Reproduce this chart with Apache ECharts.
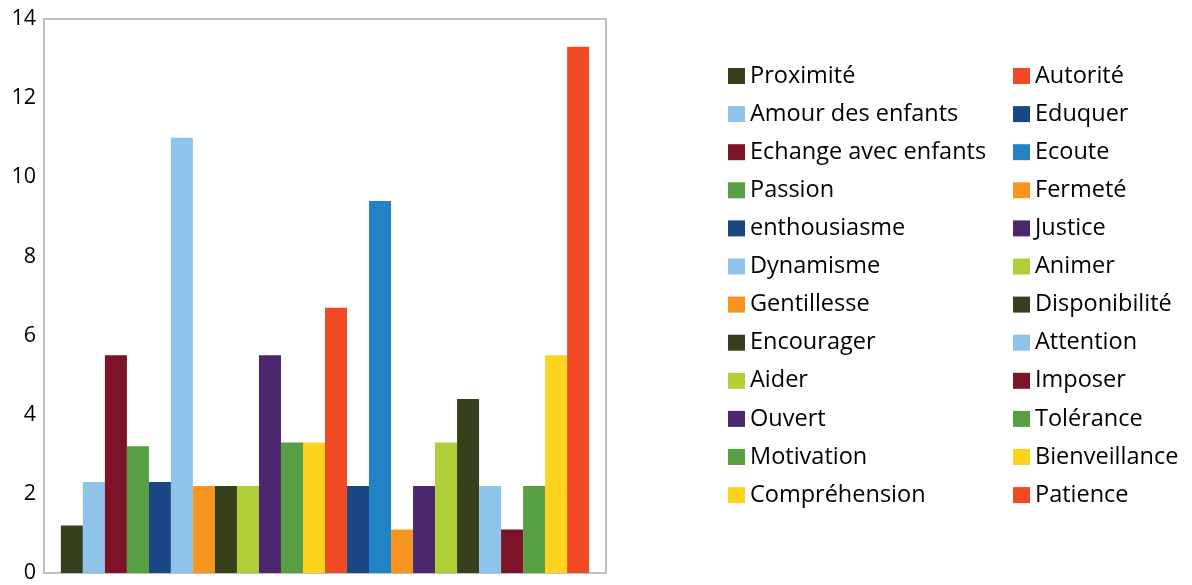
<!DOCTYPE html>
<html>
<head>
<meta charset="utf-8">
<script src="https://cdn.jsdelivr.net/npm/echarts@6/dist/echarts.min.js"></script>
<style>
  html, body { margin: 0; padding: 0; background: #fff; }
  #chart { width: 1192px; height: 585px; }
</style>
</head>
<body>
<div id="chart"></div>
<script>
// bars left to right = left legend column, then right legend column
const leftNames = ["Proximité", "Amour des enfants", "Echange avec enfants", "Passion", "enthousiasme", "Dynamisme",
  "Gentillesse", "Encourager", "Aider", "Ouvert", "Motivation", "Compréhension"];
const leftValues = [1.2, 2.3, 5.5, 3.2, 2.3, 11, 2.2, 2.2, 2.2, 5.5, 3.3, 3.3];
const leftColors = ["#36401d", "#8fc4ea", "#7d1326", "#589e43", "#1a4683", "#8fc4ea",
  "#f6951f", "#36401d", "#afce38", "#4b276d", "#589e43", "#fed31e"];

const rightNames = ["Autorité", "Eduquer", "Ecoute", "Fermeté", "Justice", "Animer",
  "Disponibilité", "Attention", "Imposer", "Tolérance", "Bienveillance", "Patience"];
const rightValues = [6.7, 2.2, 9.4, 1.1, 2.2, 3.3, 4.4, 2.2, 1.1, 2.2, 5.5, 13.3];
const rightColors = ["#ef4a24", "#1a4683", "#2183c6", "#f6951f", "#4b276d", "#afce38",
  "#36401d", "#8fc4ea", "#7d1326", "#589e43", "#fed31e", "#ef4a24"];

const yTicks = [0, 2, 4, 6, 8, 10, 12, 14];

const myChart = echarts.init(document.getElementById("chart"));

const names = leftNames.concat(rightNames);
const values = leftValues.concat(rightValues);
const colors = leftColors.concat(rightColors);

const font = "'Open Sans', Lato, sans-serif";

function legendCol(x, data) {
  return {
    data: data,
    orient: "vertical",
    left: x,
    top: 59,
    itemWidth: 17,
    itemHeight: 16,
    itemGap: 14.1,
    icon: "rect",
    textStyle: {
      fontFamily: font,
      fontSize: 23.5,
      color: "#000"
    }
  };
}

let option = {
  animation: false,
  grid: {
    left: 44,
    top: 19,
    width: 562,
    height: 554,
    show: true,
    borderColor: "#bfbfbf",
    borderWidth: 2,
    backgroundColor: "#fff"
  },
  legend: [legendCol(723, leftNames), legendCol(1008, rightNames)],
  xAxis: {
    type: "category",
    data: [""],
    axisLine: { show: false },
    axisTick: { show: false },
    axisLabel: { show: false }
  },
  yAxis: {
    type: "value",
    min: yTicks[0],
    max: yTicks[yTicks.length - 1],
    interval: 2,
    axisLine: { show: false },
    axisTick: { show: false },
    splitLine: { show: false },
    axisLabel: {
      fontFamily: font,
      fontSize: 21.5,
      color: "#000",
      margin: 8
    }
  },
  series: names.map((n, i) => ({
    name: n,
    type: "bar",
    data: [values[i]],
    itemStyle: { color: colors[i] },
    barGap: "0%",
    barCategoryGap: "6%"
  }))
};

myChart.setOption(option);
</script>
</body>
</html>
